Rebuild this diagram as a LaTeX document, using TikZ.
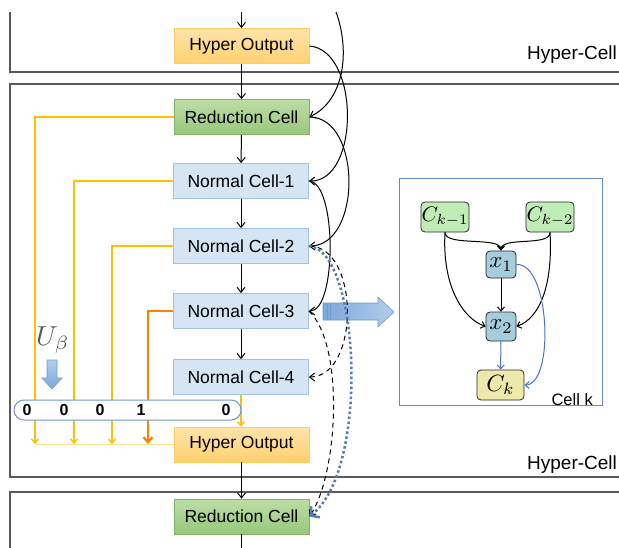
\documentclass[tikz,border=0pt]{standalone}
\usepackage[no-math]{fontspec}
\setmainfont{Liberation Sans}
\usetikzlibrary{arrows.meta}
\definecolor{hyTop}{RGB}{255,228,170}
\definecolor{hyBot}{RGB}{255,208,112}
\definecolor{hyDraw}{RGB}{255,204,96}
\definecolor{rdTop}{RGB}{188,222,164}
\definecolor{rdBot}{RGB}{152,199,124}
\definecolor{rdDraw}{RGB}{130,179,102}
\definecolor{nmFill}{RGB}{214,229,243}
\definecolor{nmDraw}{RGB}{160,196,228}
\definecolor{yel}{RGB}{255,192,0}
\definecolor{yelLight}{RGB}{255,226,140}
\definecolor{orng}{RGB}{255,128,0}
\definecolor{frameGray}{RGB}{90,90,90}
\definecolor{dotBlue}{RGB}{84,122,180}
\definecolor{capDraw}{RGB}{110,150,210}
\definecolor{barTop}{RGB}{176,206,238}
\definecolor{barBot}{RGB}{125,168,218}
\definecolor{barDraw}{RGB}{110,155,205}
\definecolor{cellBox}{RGB}{100,140,210}
\definecolor{ckGreen}{RGB}{192,236,182}
\definecolor{xBlue}{RGB}{165,205,222}
\definecolor{ckYellow}{RGB}{237,233,170}
\definecolor{innerBlue}{RGB}{70,115,200}
\definecolor{ubGray}{RGB}{90,90,90}
\begin{document}
\begin{tikzpicture}[x=1pt,y=-1pt,
  every node/.style={font=\fontsize{17.5}{20}\selectfont, inner sep=0pt, text=black},
  cellbox/.style={minimum width=135pt, minimum height=35pt},
  hyper/.style={cellbox, top color=hyTop, bottom color=hyBot, draw=hyDraw, line width=0.8pt},
  reduc/.style={cellbox, top color=rdTop, bottom color=rdBot, draw=rdDraw, line width=0.8pt},
  normal/.style={cellbox, fill=nmFill, draw=nmDraw, line width=0.8pt},
  flow/.style={-{Straight Barb[length=5pt,width=8pt]}, line width=1pt, black},
  skipd/.style={flow, dash pattern=on 5pt off 4pt},
  dotskip/.style={-{Straight Barb[length=6pt,width=14pt,line width=2.5pt]}, draw=dotBlue, line width=2.5pt, dash pattern=on 2.5pt off 2.5pt},
  yline/.style={-{Straight Barb[length=4pt,width=7pt]}, draw=yel, line width=1.4pt},
  oline/.style={-{Straight Barb[length=5pt,width=9pt]}, draw=orng, line width=2.4pt},
  frame/.style={draw=frameGray, line width=1.3pt},
  small/.style={rounded corners=4pt, draw={rgb,255:red,40;green,40;blue,40}, line width=0.8pt, font=\fontsize{10}{12}\selectfont},
  inarr/.style={-{Straight Barb[length=4pt,width=7pt]}, line width=1pt, black},
  inblue/.style={-{Straight Barb[length=4pt,width=7pt]}, line width=1pt, draw=innerBlue},
  digit/.style={font=\fontsize{16}{18}\selectfont\bfseries}
]
\useasboundingbox (0,0) rectangle (619,547);
\clip (0,0) rectangle (619,547);

% frames
\draw[frame] (10,12) -- (10,72) -- (630,72);
\draw[frame] (630,84) -- (10,84) -- (10,477) -- (630,477);
\draw[frame] (630,492) -- (10,492) -- (10,560);
\node[anchor=west, font=\fontsize{19}{21}\selectfont] (hc1) at (527,55) {Hyper-Cell};
\node[anchor=west, font=\fontsize{19}{21}\selectfont] (hc2) at (527,465) {Hyper-Cell};

% main column
\node[hyper] (ho1) at (241.5,46) {Hyper Output};
\node[reduc] (rc1) at (241.5,117) {Reduction Cell};
\node[normal] (nc1) at (241,181) {Normal Cell-1};
\node[normal] (nc2) at (241,246) {Normal Cell-2};
\node[normal] (nc3) at (241,311) {Normal Cell-3};
\node[normal] (nc4) at (241,377) {Normal Cell-4};
\node[hyper] (ho2) at (241.5,444.5) {Hyper Output};
\node[reduc] (rc2) at (241.5,516.5) {Reduction Cell};

\coordinate (topin) at (241.5,12);
\coordinate (botout) at (241.5,552);
\coordinate (prevskip) at (336,12);

\draw[flow] (topin) -- (ho1.north);
\draw[flow] (ho1) -- (rc1);
\draw[flow] (rc1) -- (nc1);
\draw[flow] (nc1) -- (nc2);
\draw[flow] (nc2) -- (nc3);
\draw[flow] (nc3) -- (nc4);
\draw[flow] (ho2) -- (rc2);
\draw[line width=1pt] (rc2.south) -- (botout);

% yellow selection lines
\coordinate (yl) at (35,444.5);
\draw[draw=yelLight, line width=1.4pt] (yl) -- (ho2.west);
\draw[yline] (rc1.west) -| (35,444);
\draw[yline] (nc1.west) -| (74,444);
\draw[yline] (nc2.west) -| (112,444);
\draw[oline] (nc3.west) -| (148,444);
\draw[yline] (nc4.south) -- (nc4.south |- ho2.north);

% capsule with weights
\node[draw=capDraw, line width=1pt, fill=white, rounded corners=10pt, minimum width=227pt, minimum height=20pt] (cap) at (127.5,410) {};
\node[digit] (d1) at (27,410) {0};
\node[digit] (d2) at (64,410) {0};
\node[digit] (d3) at (100,410) {0};
\node[digit] (d4) at (141,410) {1};
\node[digit] (d5) at (226,410) {0};

% U beta
\node[text=ubGray, font=\fontsize{10}{12}\selectfont] (ub) at (53,340) {\scalebox{2.75}{$U_\beta$}};
\shadedraw[top color=barTop, bottom color=barBot, draw=barDraw, line width=0.6pt]
  (47,360) -- (57,360) -- (57,378) -- (62,378) -- (52,389) -- (42,378) -- (47,378) -- cycle;

% big horizontal arrow
\shadedraw[left color=barBot, right color=barTop, draw=barDraw, line width=0.6pt]
  (323,303) -- (378,303) -- (378,297) -- (394,312) -- (378,327) -- (378,320) -- (323,320) -- cycle;
\draw[draw=barDraw, line width=0.6pt] (327,303) -- (327,320) (330,303) -- (330,320);

% skip connections
\draw[flow] (prevskip) .. controls (350,50) and (345,100) .. (rc1.east);
\draw[flow] (ho1.east) .. controls (360,50) and (360,182) .. (nc1.east);
\draw[flow] (rc1.east) .. controls (362,117) and (362,246) .. (nc2.east);
\draw[flow] (nc1.east) .. controls (337,182) and (337,311) .. (nc3.east);
\draw[skipd] (nc2.east) .. controls (360,246) and (360,377) .. (nc4.east);
\draw[skipd] (nc3.east) .. controls (345,345) and (338,475) .. (rc2.east);
\draw[dotskip] (nc2.east) .. controls (360,250) and (370,470) .. (rc2.east);

% cell k detail
\node[draw=cellBox, line width=1pt, minimum width=203pt, minimum height=227pt] (cellk) at (500.5,291.5) {};
\node[anchor=east, font=\fontsize{16.5}{18}\selectfont] (cklbl) at (593,400) {Cell k};
\node[small, fill=ckGreen, minimum width=48pt, minimum height=30pt] (ck1) at (445,217) {\scalebox{2.1}{$C_{k-1}$}};
\node[small, fill=ckGreen, minimum width=48pt, minimum height=30pt] (ck2) at (550,217) {\scalebox{2.1}{$C_{k-2}$}};
\node[small, fill=xBlue, minimum width=30pt, minimum height=27pt] (x1) at (501,264.5) {\scalebox{2.3}{$x_1$}};
\node[small, fill=xBlue, minimum width=30pt, minimum height=29pt] (x2) at (501,326.5) {\scalebox{2.3}{$x_2$}};
\node[small, fill=ckYellow, minimum width=47pt, minimum height=30pt] (ck) at (500.5,385) {\scalebox{2.35}{$C_k$}};

\draw[inarr] (ck1.south) .. controls (445,247) and (501,236) .. (x1.north);
\draw[inarr] (ck2.south) .. controls (550,247) and (501,236) .. (x1.north);
\draw[inarr] (ck1.south) .. controls (442,285) and (462,318) .. (x2.west);
\draw[inarr] (ck2.south) .. controls (553,285) and (540,318) .. (x2.east);
\draw[inarr] (x1) -- (x2);
\draw[inblue] (x2) -- (ck);
\draw[inblue] (x1.east) .. controls (550,262) and (555,385) .. (ck.east);
\end{tikzpicture}
\end{document}
